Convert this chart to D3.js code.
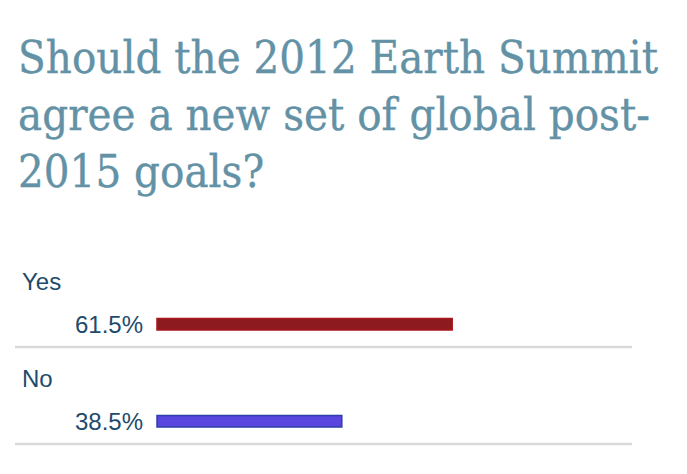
<!DOCTYPE html>
<html>
<head>
<meta charset="utf-8">
<script src="https://cdn.jsdelivr.net/npm/d3@7"></script>
<style>
  html, body { margin: 0; padding: 0; background: #fff; }
  svg { display: block; }
</style>
</head>
<body>
<svg id="chart" width="687" height="474"></svg>
<script>
// ---- data ----
const titleLines = ["Should the 2012 Earth Summit", "agree a new set of global post-", "2015 goals?"];
const categories = ["Yes", "No"];
const values = [61.5, 38.5];
const valueLabels = ["61.5%", "38.5%"];
const barFills = ["#8c1a1e", "#5a46de"];
const barStrokes = ["#a8161c", "#2c3fa6"];

const svg = d3.select("#chart");

// title
const titleBaselines = [73, 130, 187];
const tSel = svg.append("g").selectAll("text").data(titleLines).join("text")
  .attr("x", 0)
  .attr("y", 0)
  .attr("transform", (d, i) => `translate(18,${titleBaselines[i]}) scale(1,1.12)`)
  .attr("font-family", "'DejaVu Serif', Georgia, serif")
  .attr("font-size", 40)
  .attr("fill", "#6392a6")
  .attr("stroke", "#6392a6")
  .attr("stroke-width", 0.35)
  .text(d => d);
// fit first line to reference width (~640px)
const w0 = tSel.nodes()[0].getComputedTextLength();
tSel.attr("font-size", 40 * 640 / w0);

// rows
const x = d3.scaleLinear().domain([0, 100]).range([157, 637]);
const rowY = d3.scaleBand().domain(categories).range([262, 456]);

const rows = svg.selectAll("g.row").data(categories).join("g")
  .attr("class", "row")
  .attr("transform", d => `translate(0,${rowY(d)})`);

rows.append("text")
  .attr("x", 22)
  .attr("y", 28)
  .attr("font-family", "Arial, 'Liberation Sans', sans-serif")
  .attr("font-size", 24)
  .attr("fill", "#1e4b6d")
  .text(d => d);

rows.append("text")
  .attr("x", 143)
  .attr("y", 71)
  .attr("text-anchor", "end")
  .attr("font-family", "Arial, 'Liberation Sans', sans-serif")
  .attr("font-size", 24)
  .attr("fill", "#1e4b6d")
  .text((d, i) => valueLabels[i]);

rows.append("rect")
  .attr("x", x(0))
  .attr("y", 56.5)
  .attr("height", 11.5)
  .attr("width", (d, i) => x(values[i]) - x(0))
  .attr("fill", (d, i) => barFills[i])
  .attr("stroke", (d, i) => barStrokes[i])
  .attr("stroke-width", 1.5);

rows.append("line")
  .attr("x1", 15).attr("x2", 632)
  .attr("y1", 85).attr("y2", 85)
  .attr("stroke", "#d9d9d9")
  .attr("stroke-width", 2.5);
</script>
</body>
</html>
